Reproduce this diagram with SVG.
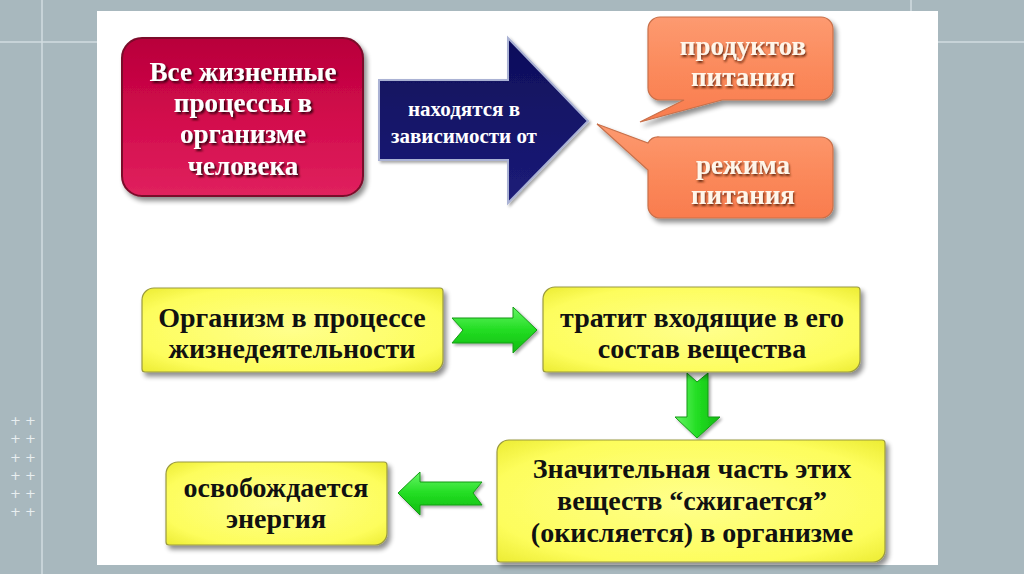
<svg xmlns="http://www.w3.org/2000/svg" width="1024" height="574" viewBox="0 0 1024 574">
<defs>
<style>
.t{font-family:"Liberation Serif","Times New Roman",serif;font-weight:bold;text-anchor:middle}
.red{font-size:27px;fill:#ffffff}
.blue{font-size:21px;fill:#ffffff}
.orn{font-size:27px;fill:#fff6ea}
.yel{font-size:28px;fill:#111111}
.grid{stroke:#d2dde0;stroke-width:1.5;fill:none}
.plus{font-family:"DejaVu Sans",sans-serif;font-size:13px;fill:#e8eef0}
.ybox{fill:url(#yg);stroke:#9a9a40;stroke-width:1.2;filter:url(#sh)}
.garr{fill:url(#gg);stroke:#159a15;stroke-width:1;filter:url(#sh2)}
</style>
<linearGradient id="rg" x1="0" y1="0" x2="0" y2="1">
<stop offset="0" stop-color="#b8003a"/><stop offset="0.5" stop-color="#d20a4c"/><stop offset="1" stop-color="#e0225e"/>
</linearGradient>
<linearGradient id="bg" x1="0" y1="0" x2="0" y2="1">
<stop offset="0" stop-color="#0e0e5a"/><stop offset="1" stop-color="#1c1c78"/>
</linearGradient>
<linearGradient id="og" x1="0" y1="0" x2="0" y2="1">
<stop offset="0" stop-color="#fd9a70"/><stop offset="0.5" stop-color="#fb8a5c"/><stop offset="1" stop-color="#f97c4e"/>
</linearGradient>
<radialGradient id="yg" cx="0.5" cy="0.5" r="0.7">
<stop offset="0" stop-color="#ffff8c"/><stop offset="0.75" stop-color="#fdfd5c"/><stop offset="1" stop-color="#ecec34"/>
</radialGradient>
<linearGradient id="gg" x1="0" y1="0" x2="0" y2="1">
<stop offset="0" stop-color="#66f566"/><stop offset="0.5" stop-color="#22dd22"/><stop offset="1" stop-color="#10bb10"/>
</linearGradient>
<linearGradient id="ggv" x1="0" y1="0" x2="1" y2="0">
<stop offset="0" stop-color="#66f566"/><stop offset="0.5" stop-color="#22dd22"/><stop offset="1" stop-color="#10bb10"/>
</linearGradient>
<filter id="sh" x="-10%" y="-10%" width="125%" height="130%">
<feGaussianBlur in="SourceAlpha" stdDeviation="2.5"/>
<feOffset dx="3" dy="4" result="b"/>
<feComponentTransfer><feFuncA type="linear" slope="0.45"/></feComponentTransfer>
<feMerge><feMergeNode/><feMergeNode in="SourceGraphic"/></feMerge>
</filter>
<filter id="sh2" x="-10%" y="-10%" width="130%" height="130%">
<feGaussianBlur in="SourceAlpha" stdDeviation="1.5"/>
<feOffset dx="2" dy="2" result="b"/>
<feComponentTransfer><feFuncA type="linear" slope="0.35"/></feComponentTransfer>
<feMerge><feMergeNode/><feMergeNode in="SourceGraphic"/></feMerge>
</filter>
<filter id="ts" x="-5%" y="-20%" width="110%" height="150%">
<feGaussianBlur in="SourceAlpha" stdDeviation="0.8"/>
<feOffset dx="1.5" dy="1.5" result="b"/>
<feFlood flood-color="#3a0010"/>
<feComposite in2="b" operator="in"/>
<feMerge><feMergeNode/><feMergeNode in="SourceGraphic"/></feMerge>
</filter>
<filter id="tso" x="-5%" y="-20%" width="110%" height="150%">
<feGaussianBlur in="SourceAlpha" stdDeviation="0.8"/>
<feOffset dx="1.2" dy="1.5" result="b"/>
<feFlood flood-color="#6a2a10"/>
<feComposite in2="b" operator="in"/>
<feMerge><feMergeNode/><feMergeNode in="SourceGraphic"/></feMerge>
</filter>
</defs>

<rect x="0" y="0" width="1024" height="574" fill="#a8b8be"/>
<g id="background-lines">
<line class="grid" x1="42" y1="0" x2="42" y2="574"/>
<line class="grid" x1="0" y1="42" x2="1024" y2="42"/>
<line class="grid" x1="911" y1="0" x2="911" y2="42"/>
</g>
<g id="plus-marks">
<text class="plus" x="10" y="425">+ +</text>
<text class="plus" x="10" y="443">+ +</text>
<text class="plus" x="10" y="462">+ +</text>
<text class="plus" x="10" y="480">+ +</text>
<text class="plus" x="10" y="498">+ +</text>
<text class="plus" x="10" y="516">+ +</text>
</g>
<rect id="panel" x="97" y="11" width="841" height="554" fill="#ffffff"/>

<g id="connectors">
<path id="arrow-blue" d="M379,80 L508,80 L508,38 L588,121 L508,203 L508,160 L379,160 Z" fill="url(#bg)" stroke="#aab2d4" stroke-width="2" filter="url(#sh2)"/>
<path id="arrow-right" class="garr" d="M452,318 L513,318 L513,307 L537,330 L513,353 L513,343 L452,343 L463,330 Z"/>
<path id="arrow-down" class="garr" style="fill:url(#ggv)" d="M687,373 L697,382 L708,373 L708,417 L720,417 L697,438 L675,417 L687,417 Z"/>
<path id="arrow-left" class="garr" d="M398,493 L420,472 L420,482 L482,482 L473,493 L482,505 L420,505 L420,515 Z"/>
</g>

<g id="node-vse">
<rect x="122" y="38" width="241" height="158" rx="20" fill="url(#rg)" stroke="#7a0a2a" stroke-width="2" filter="url(#sh)"/>
<g class="t red" filter="url(#ts)">
<text x="243" y="81">Все жизненные</text>
<text x="243" y="112">процессы в</text>
<text x="243" y="143">организме</text>
<text x="243" y="175">человека</text>
</g>
</g>

<g id="label-blue" class="t blue">
<text x="464" y="116">находятся в</text>
<text x="464" y="143">зависимости от</text>
</g>

<g id="node-produktov">
<path d="M660,17 H821 A12,12 0 0 1 833,29 V88 A12,12 0 0 1 821,100 H722 L640,122 L684,100 H660 A12,12 0 0 1 648,88 V29 A12,12 0 0 1 660,17 Z" fill="url(#og)" stroke="#c8704a" stroke-width="1.2" filter="url(#sh)"/>
<g class="t orn" filter="url(#tso)">
<text x="743" y="55">продуктов</text>
<text x="743" y="86">питания</text>
</g>
</g>

<g id="node-rezhima">
<path d="M660,137 H821 A12,12 0 0 1 833,149 V206 A12,12 0 0 1 821,218 H660 A12,12 0 0 1 648,206 V170 L597,124 L648,143 A12,12 0 0 1 660,137 Z" fill="url(#og)" stroke="#c8704a" stroke-width="1.2" filter="url(#sh)"/>
<g class="t orn" filter="url(#tso)">
<text x="743" y="174">режима</text>
<text x="743" y="204">питания</text>
</g>
</g>

<g id="node-organizm">
<path class="ybox" d="M154,288 H440 Q443,288 443,291 V360 A12,12 0 0 1 431,372 H145 Q142,372 142,369 V300 A12,12 0 0 1 154,288 Z"/>
<g class="t yel">
<text x="292" y="327">Организм в процессе</text>
<text x="292" y="358">жизнедеятельности</text>
</g>
</g>

<g id="node-tratit">
<path class="ybox" d="M555,287 H857 Q860,287 860,290 V360 A12,12 0 0 1 848,372 H546 Q543,372 543,369 V299 A12,12 0 0 1 555,287 Z"/>
<g class="t yel">
<text x="702" y="327">тратит входящие в его</text>
<text x="702" y="358">состав вещества</text>
</g>
</g>

<g id="node-znachit">
<path class="ybox" d="M509,440 H882 Q885,440 885,443 V550 A12,12 0 0 1 873,562 H500 Q497,562 497,559 V452 A12,12 0 0 1 509,440 Z"/>
<g class="t yel">
<text x="692" y="478">Значительная часть этих</text>
<text x="692" y="510">веществ “сжигается”</text>
<text x="692" y="542">(окисляется) в организме</text>
</g>
</g>

<g id="node-energiya">
<path class="ybox" d="M178,462 H384 Q387,462 387,465 V533 A12,12 0 0 1 375,545 H169 Q166,545 166,542 V474 A12,12 0 0 1 178,462 Z"/>
<g class="t yel">
<text x="276" y="497">освобождается</text>
<text x="276" y="528">энергия</text>
</g>
</g>
</svg>
